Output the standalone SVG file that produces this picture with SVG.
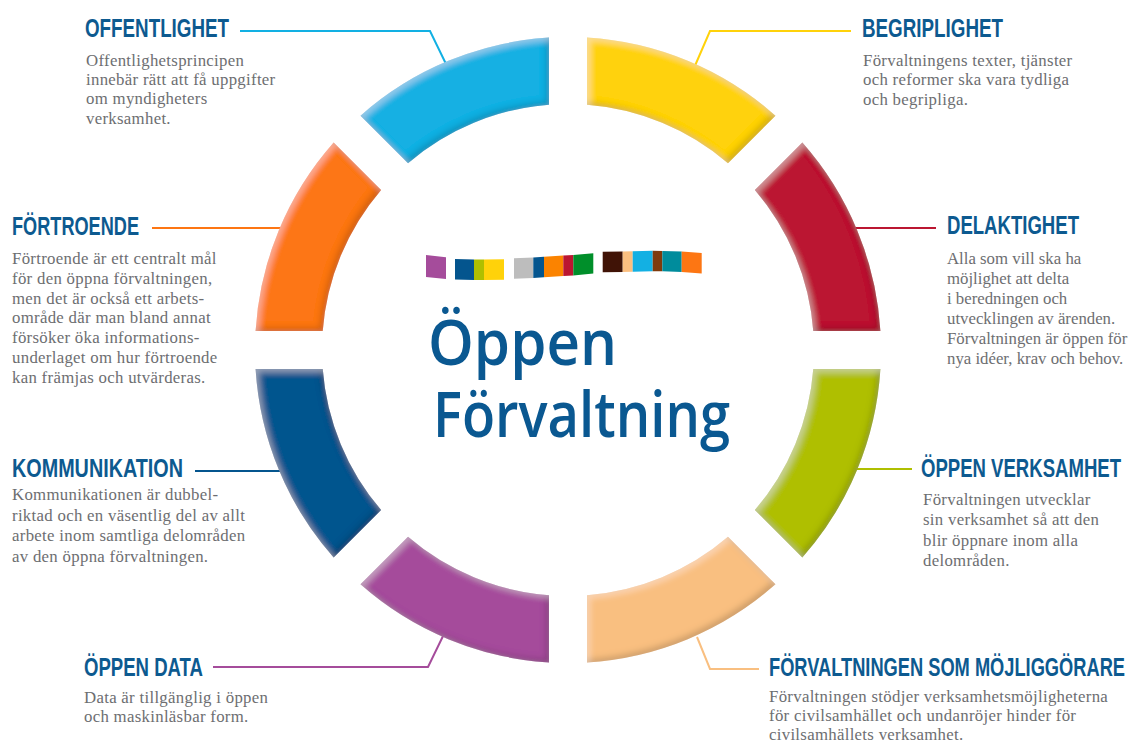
<svg xmlns="http://www.w3.org/2000/svg" width="1130" height="742" viewBox="0 0 1130 742">
<style>
.h{font-family:"Liberation Sans Narrow","Liberation Sans",Arial,sans-serif;font-weight:bold;font-size:25px;fill:#0d5a90}
.b{font-family:"Liberation Serif","Times New Roman",serif;font-size:16.8px;letter-spacing:0.3px;fill:#6d6e71}
.n .b{letter-spacing:0}
.t{font-family:"Open Sans","Noto Sans",sans-serif;font-weight:600;font-size:64px;fill:#0a5891}
.c{fill:none;stroke-width:2}
.seg{filter:url(#bevel)}
</style>
<defs>
<filter id="bevel" x="-10%" y="-10%" width="120%" height="120%">
<feGaussianBlur in="SourceAlpha" stdDeviation="3" result="bl"/>
<feOffset in="bl" dx="-3" dy="-3" result="o1"/>
<feComposite in="SourceAlpha" in2="o1" operator="out" result="e1"/>
<feFlood flood-color="#000" flood-opacity="0.35"/>
<feComposite in2="e1" operator="in" result="sh"/>
<feOffset in="bl" dx="3" dy="3" result="o2"/>
<feComposite in="SourceAlpha" in2="o2" operator="out" result="e2"/>
<feFlood flood-color="#fff" flood-opacity="0.3"/>
<feComposite in2="e2" operator="in" result="hl"/>
<feMerge><feMergeNode in="SourceGraphic"/><feMergeNode in="sh"/><feMergeNode in="hl"/></feMerge>
</filter>
</defs>
<rect width="1130" height="742" fill="#fff"/>
<g id="connectors">
<polyline class="c" stroke="#12b0e3" points="240,31 430,31 447,66"/>
<polyline class="c" stroke="#ffd20a" points="851,31 710,31 694,68"/>
<polyline class="c" stroke="#fd7613" points="152,228 285,228"/>
<polyline class="c" stroke="#bb1631" points="850,228 936,228"/>
<polyline class="c" stroke="#04558e" points="195,471 285,471"/>
<polyline class="c" stroke="#afbf00" points="850,469 912,469"/>
<polyline class="c" stroke="#a54c9b" points="213,667 428,667 445,632"/>
<polyline class="c" stroke="#f9bf80" points="759,669 710,669 697,637"/>
</g>
<g id="ring">
<path id="seg-begriplighet" class="seg" fill="#ffd20a" d="M587,37.58 A313,313 0 0 1 775.48,115.65 L727.99,163.13 A246,246 0 0 0 587,104.73 Z"/>
<path id="seg-delaktighet" class="seg" fill="#bb1631" d="M802.35,142.52 A313,313 0 0 1 880.42,331 L813.27,331 A246,246 0 0 0 754.87,190.01 Z"/>
<path id="seg-oppen-verksamhet" class="seg" fill="#afbf00" d="M880.42,369 A313,313 0 0 1 802.35,557.48 L754.87,509.99 A246,246 0 0 0 813.27,369 Z"/>
<path id="seg-mojliggorare" class="seg" fill="#f9bf80" d="M775.48,584.35 A313,313 0 0 1 587,662.42 L587,595.27 A246,246 0 0 0 727.99,536.87 Z"/>
<path id="seg-oppen-data" class="seg" fill="#a54c9b" d="M549,662.42 A313,313 0 0 1 360.52,584.35 L408.01,536.87 A246,246 0 0 0 549,595.27 Z"/>
<path id="seg-kommunikation" class="seg" fill="#04558e" d="M333.65,557.48 A313,313 0 0 1 255.58,369 L322.73,369 A246,246 0 0 0 381.13,509.99 Z"/>
<path id="seg-fortroende" class="seg" fill="#fd7613" d="M255.58,331 A313,313 0 0 1 333.65,142.52 L381.13,190.01 A246,246 0 0 0 322.73,331 Z"/>
<path id="seg-offentlighet" class="seg" fill="#12b0e3" d="M360.52,115.65 A313,313 0 0 1 549,37.58 L549,104.73 A246,246 0 0 0 408.01,163.13 Z"/>
</g>
<g id="logo">
<polygon fill="#a54c9b" points="426,255 446,257.3 446,279 426,277"/>
<polygon fill="#04558e" points="455,259 474,259.5 474,280 455,279.5"/>
<polygon fill="#afbf00" points="474,259.5 484,259.6 484,280 474,280"/>
<polygon fill="#ffd20a" points="484,259.6 504,259.3 504,279.8 484,280"/>
<polygon fill="#bdbdbd" points="514,258.3 533.3,257.5 533.3,278 514,278.8"/>
<polygon fill="#04558e" points="533.3,257.5 544,256.7 544,277.2 533.3,278"/>
<polygon fill="#fb8300" points="544,256.7 563.3,255.5 563.3,276 544,277.2"/>
<polygon fill="#bb1631" points="563.3,255.5 573.3,255 573.3,275.4 563.3,276"/>
<polygon fill="#008f2a" points="573.3,255 593.3,253.3 593.3,273.5 573.3,275.4"/>
<polygon fill="#401306" points="602.7,251.7 622.7,251.5 622.7,272 602.7,272.3"/>
<polygon fill="#fbbf80" points="622.7,251.5 632.7,251.2 632.7,271.7 622.7,272"/>
<polygon fill="#13b0e3" points="632.7,251.2 652.7,250.7 652.7,271.2 632.7,271.7"/>
<polygon fill="#7f3a0c" points="652.7,250.7 662.3,250.9 662.3,271.3 652.7,271.2"/>
<polygon fill="#008c9c" points="662.3,250.9 681.7,251.5 681.7,272 662.3,271.3"/>
<polygon fill="#fd7613" points="681.7,251.5 701.7,253 701.7,273.5 681.7,272"/>
</g>
<g id="title">
<text class="t" x="428" y="365" textLength="189" lengthAdjust="spacingAndGlyphs">Öppen</text>
<text class="t" x="433" y="437" textLength="297" lengthAdjust="spacingAndGlyphs">Förvaltning</text>
</g>
<g id="node-offentlighet">
<text class="h" x="85" y="37" textLength="144" lengthAdjust="spacingAndGlyphs">OFFENTLIGHET</text>
<text class="b" x="86" y="66">Offentlighetsprincipen</text>
<text class="b" x="86" y="85">innebär rätt att få uppgifter</text>
<text class="b" x="86" y="104">om myndigheters</text>
<text class="b" x="86" y="124">verksamhet.</text>
</g>
<g id="node-begriplighet">
<text class="h" x="862" y="37" textLength="141" lengthAdjust="spacingAndGlyphs">BEGRIPLIGHET</text>
<text class="b" x="863" y="66">Förvaltningens texter, tjänster</text>
<text class="b" x="863" y="85">och reformer ska vara tydliga</text>
<text class="b" x="863" y="105">och begripliga.</text>
</g>
<g id="node-fortroende">
<text class="h" x="12" y="235" textLength="127" lengthAdjust="spacingAndGlyphs">FÖRTROENDE</text>
<text class="b" x="12" y="264">Förtroende är ett centralt mål</text>
<text class="b" x="12" y="284">för den öppna förvaltningen,</text>
<text class="b" x="12" y="304">men det är också ett arbets-</text>
<text class="b" x="12" y="323">område där man bland annat</text>
<text class="b" x="12" y="343">försöker öka informations-</text>
<text class="b" x="12" y="363">underlaget om hur förtroende</text>
<text class="b" x="12" y="383">kan främjas och utvärderas.</text>
</g>
<g id="node-delaktighet" class="n">
<text class="h" x="947" y="234" textLength="132" lengthAdjust="spacingAndGlyphs">DELAKTIGHET</text>
<text class="b" x="947" y="264">Alla som vill ska ha</text>
<text class="b" x="947" y="284">möjlighet att delta</text>
<text class="b" x="947" y="304">i beredningen och</text>
<text class="b" x="947" y="324">utvecklingen av ärenden.</text>
<text class="b" x="947" y="344">Förvaltningen är öppen för</text>
<text class="b" x="947" y="364">nya idéer, krav och behov.</text>
</g>
<g id="node-kommunikation">
<text class="h" x="12" y="477" textLength="171" lengthAdjust="spacingAndGlyphs">KOMMUNIKATION</text>
<text class="b" x="12" y="500">Kommunikationen är dubbel-</text>
<text class="b" x="12" y="521">riktad och en väsentlig del av allt</text>
<text class="b" x="12" y="541">arbete inom samtliga delområden</text>
<text class="b" x="12" y="562">av den öppna förvaltningen.</text>
</g>
<g id="node-oppen-verksamhet">
<text class="h" x="921" y="477" textLength="200" lengthAdjust="spacingAndGlyphs">ÖPPEN VERKSAMHET</text>
<text class="b" x="923" y="505">Förvaltningen utvecklar</text>
<text class="b" x="923" y="525">sin verksamhet så att den</text>
<text class="b" x="923" y="546">blir öppnare inom alla</text>
<text class="b" x="923" y="566">delområden.</text>
</g>
<g id="node-oppen-data">
<text class="h" x="84" y="676" textLength="119" lengthAdjust="spacingAndGlyphs">ÖPPEN DATA</text>
<text class="b" x="84" y="703">Data är tillgänglig i öppen</text>
<text class="b" x="84" y="722">och maskinläsbar form.</text>
</g>
<g id="node-mojliggorare">
<text class="h" x="769" y="676" textLength="356" lengthAdjust="spacingAndGlyphs">FÖRVALTNINGEN SOM MÖJLIGGÖRARE</text>
<text class="b" x="769" y="702">Förvaltningen stödjer verksamhetsmöjligheterna</text>
<text class="b" x="769" y="721">för civilsamhället och undanröjer hinder för</text>
<text class="b" x="769" y="740">civilsamhällets verksamhet.</text>
</g>
</svg>
